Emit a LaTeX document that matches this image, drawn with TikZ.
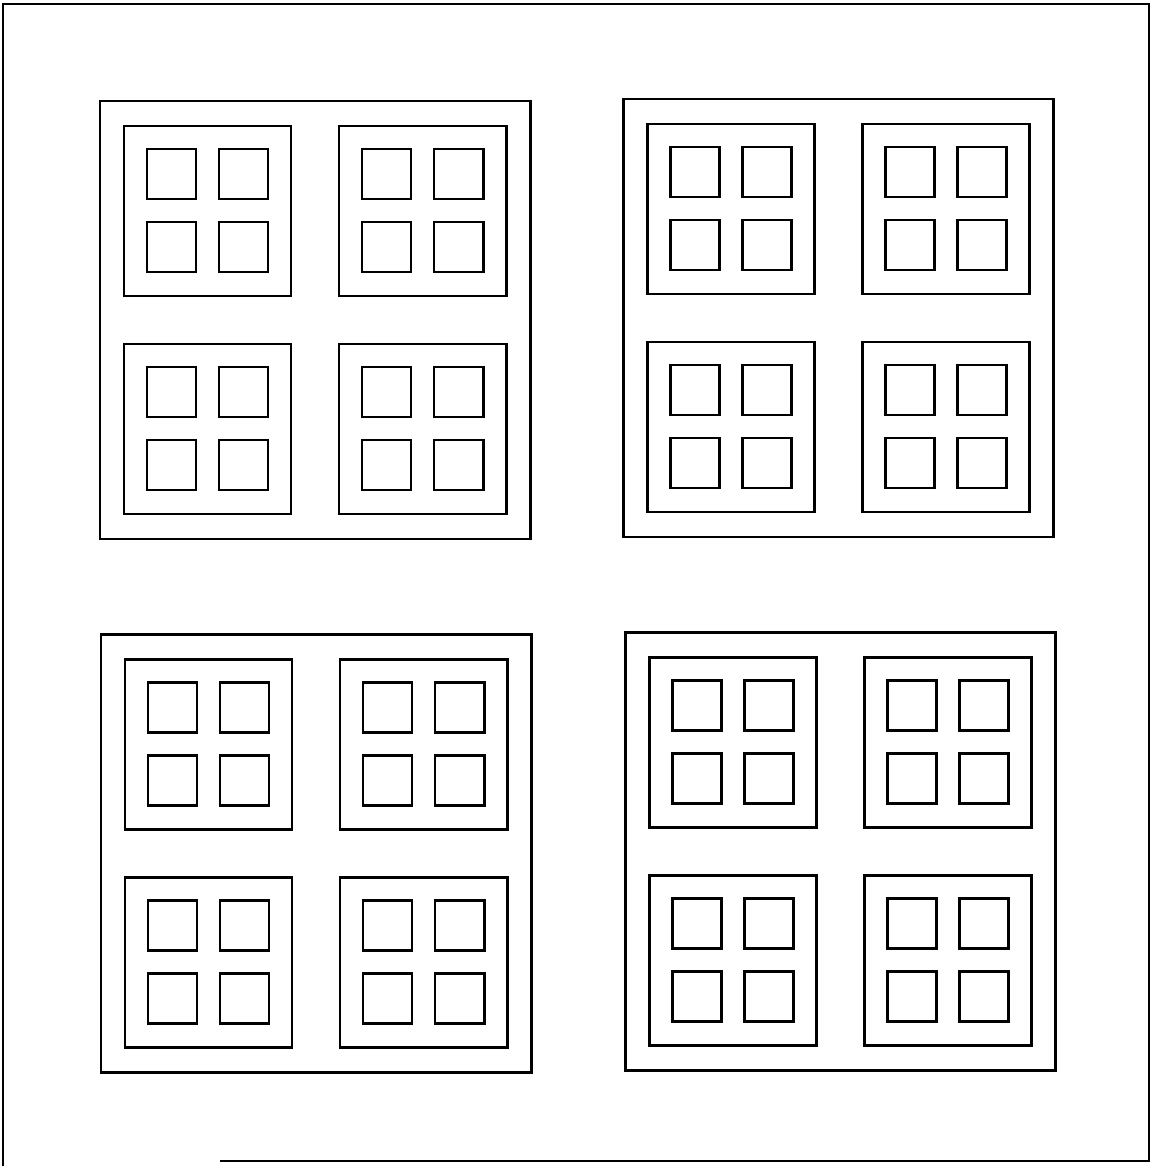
\documentclass[tikz,border=0pt]{standalone}
\begin{document}
\begin{tikzpicture}[x=0.02cm, y=-0.02cm,
    frame/.style={line width=1.4pt},
    sq/.style={line width=1.7pt}
  ]
  \useasboundingbox (0,0) rectangle (1153,1166);
  % page border
  \draw[frame] (3,1166) -- (3,4) -- (1149,4) -- (1149,1161) -- (220,1161);
  % four blocks, each with four cells of four windows
  \foreach \bx/\by in {100/101, 623/99, 101/634, 625/632} {
    \draw[sq] (\bx,\by) rectangle ++(430,438);
    \foreach \i in {0,1} \foreach \j in {0,1} {
      \draw[sq] (\bx+24+215*\i, \by+25+218*\j) rectangle ++(167,170);
      \foreach \k in {0,1} \foreach \l in {0,1}
        \draw[sq] (\bx+47+215*\i+72*\k, \by+48+218*\j+73*\l) rectangle ++(49,50);
    }
  }
\end{tikzpicture}
\end{document}
